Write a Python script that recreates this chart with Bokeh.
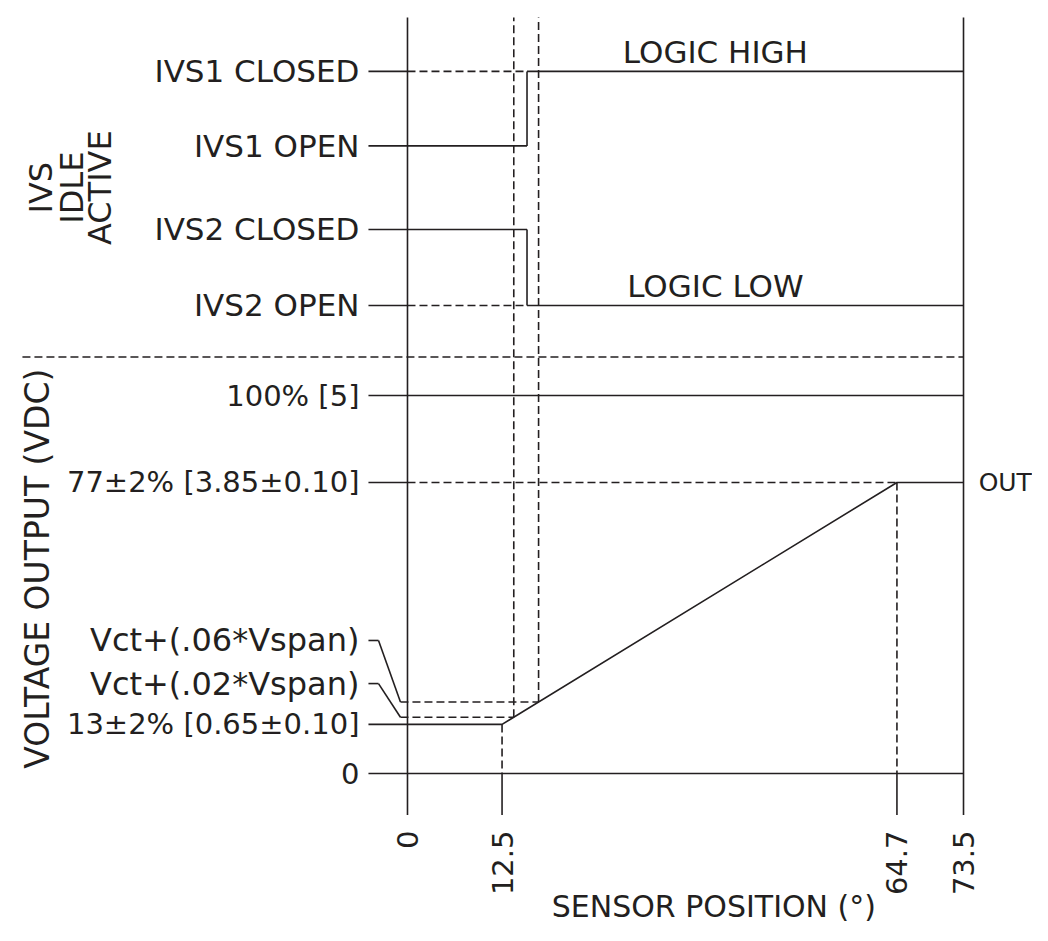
import numpy as np
from bokeh.plotting import figure
from bokeh.models import Range1d, ColumnDataSource
from bokeh.core.properties import value
from bokeh.embed import file_html
from bokeh.resources import INLINE

# ---------------- data ----------------
x_ticks = [0, 12.5, 64.7, 73.5]
x_tick_labels = ["0", "12.5", "64.7", "73.5"]
x_title = "SENSOR POSITION (°)"

v_levels = [5.0, 3.85, 0.65, 0.0]
v_labels = ["100% [5]", "77±2% [3.85±0.10]", "13±2% [0.65±0.10]", "0"]
v_title = "VOLTAGE OUTPUT (VDC)"

out_x = [0, 12.5, 64.7, 73.5]
out_v = [0.65, 0.65, 3.85, 3.85]
out_label = "OUT"

thr_labels = ["Vct+(.06*Vspan)", "Vct+(.02*Vspan)"]
thr_v = [0.946, 0.745]          # threshold voltages
thr_label_v = [1.76, 1.19]      # label heights

ivs_levels = [3.08, 2.1, 1.0, 0.0]
ivs_labels = ["IVS1 CLOSED", "IVS1 OPEN", "IVS2 CLOSED", "IVS2 OPEN"]
ivs_switch_x = 15.8
ivs_title = ["IVS", "IDLE", "ACTIVE"]
logic_labels = ["LOGIC HIGH", "LOGIC LOW"]

# ---------------- layout constants ----------------
W, H = 1032, 925
COL = "#231f20"
LW = 1.6
DASH = "8 4"
FONT = value("DejaVu Sans")

x_lo, x_hi = -53.80, 82.62
v_lo, v_hi = -2.010, 10.225
ivs_lo, ivs_hi = -8.158, 4.013

top_v = 10.0
bot_v = -0.55
tick_start = -5.16
label_x = -6.35
x_end = x_ticks[-1]
x0 = x_ticks[0]

p = figure(width=W, height=H, output_backend="svg", toolbar_location=None,
           x_range=Range1d(x_lo, x_hi), y_range=Range1d(v_lo, v_hi),
           x_axis_location=None, y_axis_location=None,
           min_border=0, min_border_left=0, min_border_right=0,
           min_border_top=0, min_border_bottom=0)
p.extra_y_ranges = {"ivs": Range1d(ivs_lo, ivs_hi)}
p.grid.visible = False
p.outline_line_color = None
p.background_fill_color = "white"
p.border_fill_color = "white"

solid_v = dict(x0=[], y0=[], x1=[], y1=[])
dash_v = dict(x0=[], y0=[], x1=[], y1=[])
solid_i = dict(x0=[], y0=[], x1=[], y1=[])
dash_i = dict(x0=[], y0=[], x1=[], y1=[])


def seg(d, a, b, c, e):
    d["x0"].append(a); d["y0"].append(b); d["x1"].append(c); d["y1"].append(e)


# frame verticals
seg(solid_v, x0, top_v, x0, bot_v)
seg(solid_v, x_end, top_v, x_end, bot_v)

# voltage ticks
for v in v_levels:
    seg(solid_v, tick_start, v, x0, v)
seg(solid_v, x0, v_levels[0], x_end, v_levels[0])
seg(solid_v, x0, v_levels[3], x_end, v_levels[3])
seg(dash_v, x0, out_v[2], out_x[2], out_v[2])

# break points verticals
for xb, vb in [(out_x[1], out_v[1]), (out_x[2], out_v[2])]:
    seg(dash_v, xb, vb, xb, 0.0)
    seg(solid_v, xb, 0.0, xb, bot_v)

# thresholds
ramp_v = out_v[1:3]
ramp_x = out_x[1:3]
for tv, lv in zip(thr_v, thr_label_v):
    tx = float(np.interp(tv, ramp_v, ramp_x))
    seg(solid_v, tick_start, lv, -3.83, lv)
    seg(solid_v, -3.83, lv, -0.93, tv)
    seg(dash_v, -0.93, tv, tx, tv)
    seg(dash_v, tx, tv, tx, top_v)

# separator
seg(dash_v, -50.9, 5.51, x_end, 5.51)

# IVS region
c1, o1, c2, o2 = ivs_levels
for lv in ivs_levels:
    seg(solid_i, tick_start, lv, x0, lv)
seg(dash_i, x0, c1, ivs_switch_x, c1)
seg(solid_i, ivs_switch_x, c1, x_end, c1)
seg(solid_i, ivs_switch_x, c1, ivs_switch_x, o1)
seg(solid_i, x0, o1, ivs_switch_x, o1)
seg(solid_i, x0, c2, ivs_switch_x, c2)
seg(solid_i, ivs_switch_x, c2, ivs_switch_x, o2)
seg(dash_i, x0, o2, ivs_switch_x, o2)
seg(solid_i, ivs_switch_x, o2, x_end, o2)

p.segment("x0", "y0", "x1", "y1", source=ColumnDataSource(solid_v),
          line_color=COL, line_width=LW)
p.segment("x0", "y0", "x1", "y1", source=ColumnDataSource(dash_v),
          line_color=COL, line_width=LW, line_dash=DASH)
p.segment("x0", "y0", "x1", "y1", source=ColumnDataSource(solid_i),
          line_color=COL, line_width=LW, y_range_name="ivs")
p.segment("x0", "y0", "x1", "y1", source=ColumnDataSource(dash_i),
          line_color=COL, line_width=LW, line_dash=DASH, y_range_name="ivs")

# output curve
p.line(out_x, out_v, line_color=COL, line_width=LW)


def txt(fs):
    return dict(text_font=FONT, text_font_size=fs, text_color=COL)


# y labels
p.text(x=[label_x] * len(v_levels), y=v_levels, text=v_labels,
       text_align="right", text_baseline="middle", **txt("29px"))
p.text(x=[label_x] * len(thr_labels), y=thr_label_v, text=thr_labels,
       text_align="right", text_baseline="middle", **txt("32px"))
p.text(x=[label_x] * len(ivs_levels), y=ivs_levels, text=ivs_labels,
       text_align="right", text_baseline="middle", y_range_name="ivs",
       **txt("31px"))

# x tick labels
p.text(x=x_ticks, y=[-0.754] * len(x_ticks), text=x_tick_labels,
       angle=np.pi / 2, text_align="right", text_baseline="middle",
       **txt("29px"))
p.text(x=[40.5], y=[-1.759], text=[x_title],
       text_align="center", text_baseline="middle", **txt("30px"))

# left titles
p.text(x=[-48.9], y=[2.71], text=[v_title], angle=np.pi / 2,
       text_align="center", text_baseline="middle", **txt("33px"))
p.text(x=[-48.5, -44.4, -40.6], y=[1.55] * 3, text=ivs_title, angle=np.pi / 2,
       text_align="center", text_baseline="middle", y_range_name="ivs",
       **txt("32px"))

# logic labels
p.text(x=[40.7, 40.7], y=[c1, o2], text=logic_labels, text_align="center",
       text_baseline="middle", y_offset=-19, y_range_name="ivs",
       **txt("31px"))

# OUT
p.text(x=[75.5], y=[out_v[-1]], text=[out_label], text_align="left",
       text_baseline="middle", **txt("25px"))

open("out.html", "w").write(file_html(p, INLINE))
